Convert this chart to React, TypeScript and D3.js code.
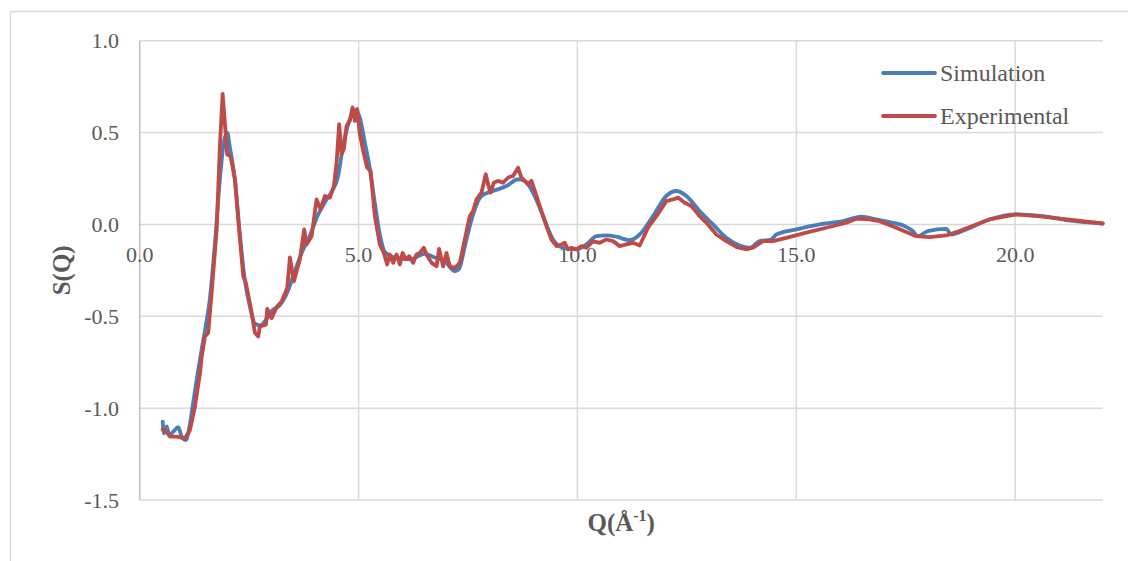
import React from "react";
import * as d3 from "d3";

const yTicks = [1.0, 0.5, 0.0, -0.5, -1.0, -1.5];
const xTicks = [0, 5, 10, 15, 20];
const seriesNames = ["Simulation", "Experimental"];
const seriesColors = ["#4A7EBB", "#BE4B48"];

const simQ = [0.525, 0.555, 0.616, 0.676, 0.767, 0.881, 0.959, 1.057, 1.132, 1.21, 1.301, 1.416, 1.49, 1.605, 1.72, 1.833, 1.925, 2.0, 2.06, 2.176, 2.29, 2.4, 2.52, 2.632, 2.747, 2.884, 3.02, 3.2, 3.39, 3.55, 3.71, 3.89, 4.07, 4.23, 4.39, 4.53, 4.64, 4.77, 4.85, 4.94, 5.03, 5.14, 5.26, 5.37, 5.49, 5.6, 5.83, 6.17, 6.51, 6.74, 6.97, 7.2, 7.3, 7.43, 7.55, 7.616, 7.808, 8.073, 8.379, 8.644, 8.797, 8.986, 9.215, 9.443, 9.671, 9.977, 10.205, 10.434, 10.662, 10.89, 11.191, 11.422, 11.726, 12.032, 12.26, 12.489, 12.792, 13.096, 13.402, 13.706, 13.934, 14.162, 14.429, 14.543, 15.0, 15.532, 16.064, 16.484, 16.826, 17.205, 17.473, 17.662, 17.776, 18.005, 18.425, 18.539, 18.881, 19.413, 20.023, 20.63, 21.164, 22.0];
const simS = [-1.074, -1.137, -1.1, -1.146, -1.128, -1.104, -1.155, -1.173, -1.108, -0.99, -0.846, -0.68, -0.58, -0.4, -0.1, 0.25, 0.45, 0.5, 0.42, 0.24, -0.06, -0.3, -0.45, -0.54, -0.55, -0.52, -0.47, -0.44, -0.36, -0.25, -0.15, -0.06, 0.05, 0.12, 0.18, 0.26, 0.42, 0.55, 0.6, 0.62, 0.58, 0.45, 0.3, 0.12, -0.06, -0.15, -0.18, -0.19, -0.16, -0.18, -0.2, -0.255, -0.24, -0.118, 0.0, 0.055, 0.155, 0.182, 0.209, 0.246, 0.237, 0.173, 0.045, -0.082, -0.127, -0.136, -0.109, -0.064, -0.06, -0.067, -0.086, -0.055, 0.045, 0.155, 0.182, 0.155, 0.073, 0.0, -0.073, -0.115, -0.127, -0.091, -0.082, -0.055, -0.027, 0.0, 0.018, 0.042, 0.027, 0.009, -0.009, -0.036, -0.064, -0.036, -0.024, -0.055, -0.027, 0.027, 0.055, 0.045, 0.024, 0.005];

const expQ = [0.525, 0.616, 0.692, 0.845, 1.034, 1.148, 1.263, 1.377, 1.416, 1.491, 1.566, 1.644, 1.758, 1.833, 1.895, 2.0, 2.078, 2.176, 2.29, 2.365, 2.427, 2.557, 2.632, 2.708, 2.747, 2.884, 2.913, 3.014, 3.128, 3.242, 3.37, 3.432, 3.523, 3.66, 3.758, 3.813, 3.927, 4.041, 4.132, 4.231, 4.345, 4.436, 4.498, 4.557, 4.612, 4.664, 4.726, 4.801, 4.863, 4.916, 4.968, 5.03, 5.105, 5.196, 5.274, 5.372, 5.486, 5.578, 5.653, 5.715, 5.79, 5.868, 5.943, 6.005, 6.08, 6.155, 6.247, 6.324, 6.4, 6.491, 6.553, 6.667, 6.781, 6.84, 6.932, 7.009, 7.084, 7.199, 7.313, 7.427, 7.541, 7.616, 7.694, 7.808, 7.906, 7.959, 8.014, 8.089, 8.187, 8.301, 8.416, 8.53, 8.644, 8.721, 8.797, 8.872, 8.95, 9.064, 9.178, 9.292, 9.406, 9.521, 9.635, 9.71, 9.785, 9.863, 9.977, 10.091, 10.205, 10.356, 10.509, 10.662, 10.813, 10.966, 11.119, 11.269, 11.422, 11.612, 11.804, 12.032, 12.183, 12.297, 12.45, 12.603, 12.792, 12.982, 13.174, 13.402, 13.63, 13.858, 14.009, 14.237, 14.466, 14.772, 15.228, 15.685, 16.142, 16.37, 16.674, 16.902, 17.283, 17.74, 18.043, 18.425, 18.728, 19.11, 19.413, 20.023, 20.63, 22.0];
const expS = [-1.115, -1.13, -1.155, -1.155, -1.164, -1.12, -0.99, -0.81, -0.72, -0.61, -0.59, -0.37, -0.03, 0.43, 0.71, 0.38, 0.37, 0.245, -0.08, -0.28, -0.32, -0.48, -0.59, -0.61, -0.555, -0.546, -0.46, -0.51, -0.45, -0.42, -0.346, -0.18, -0.31, -0.19, -0.027, -0.109, -0.064, 0.136, 0.082, 0.155, 0.146, 0.209, 0.337, 0.546, 0.382, 0.41, 0.537, 0.564, 0.637, 0.564, 0.628, 0.491, 0.4, 0.309, 0.291, 0.045, -0.109, -0.155, -0.218, -0.164, -0.209, -0.164, -0.218, -0.155, -0.19, -0.173, -0.209, -0.164, -0.155, -0.127, -0.164, -0.209, -0.227, -0.133, -0.228, -0.155, -0.228, -0.237, -0.21, -0.082, 0.045, 0.073, 0.136, 0.173, 0.273, 0.218, 0.173, 0.227, 0.237, 0.227, 0.255, 0.264, 0.309, 0.255, 0.237, 0.218, 0.237, 0.155, 0.073, -0.009, -0.082, -0.118, -0.109, -0.1, -0.136, -0.127, -0.136, -0.118, -0.127, -0.091, -0.1, -0.082, -0.091, -0.118, -0.109, -0.1, -0.115, -0.018, 0.045, 0.127, 0.136, 0.146, 0.118, 0.1, 0.045, 0.0, -0.055, -0.091, -0.122, -0.136, -0.127, -0.091, -0.091, -0.073, -0.045, -0.018, 0.009, 0.031, 0.027, 0.018, -0.018, -0.064, -0.069, -0.06, -0.036, 0.0, 0.027, 0.055, 0.042, 0.005];

const W = 1128;
const H = 561;
const plot = { left: 139.7, right: 1102.7, top: 40.7, bottom: 500 };
const FONT = "'Liberation Serif', 'Times New Roman', serif";
const GRAY = "#595959";

export default function App() {
  const x = d3.scaleLinear().domain([0, 22]).range([plot.left, plot.right]);
  const y = d3.scaleLinear().domain([-1.5, 1.0]).range([plot.bottom, plot.top]);

  const simLine = d3
    .line<number>()
    .x((_, i) => x(simQ[i]))
    .y((d) => y(d))
    .curve(d3.curveMonotoneX);
  const expLine = d3
    .line<number>()
    .x((_, i) => x(expQ[i]))
    .y((d) => y(d))
    .curve(d3.curveLinear);

  const legendY = [73, 116];

  return (
    <svg
      width={W}
      height={H}
      style={{ position: "absolute", left: 0, top: 0, background: "#fff" }}
    >
      <rect x={0} y={0} width={W} height={H} fill="#fff" />
      <line x1={10.5} y1={11.5} x2={W} y2={11.5} stroke="#D9D9D9" strokeWidth={1.3} />
      <line x1={10.5} y1={11.5} x2={10.5} y2={H} stroke="#D9D9D9" strokeWidth={1.3} />

      {yTicks.map((t) => (
        <line
          key={"gy" + t}
          x1={plot.left}
          x2={plot.right}
          y1={y(t)}
          y2={y(t)}
          stroke="#D9D9D9"
          strokeWidth={1.5}
        />
      ))}
      {xTicks.map((t) => (
        <line
          key={"gx" + t}
          x1={x(t)}
          x2={x(t)}
          y1={plot.top}
          y2={plot.bottom}
          stroke={t === 0 ? "#BFBFBF" : "#D9D9D9"}
          strokeWidth={1.5}
        />
      ))}

      {yTicks.map((t) => (
        <text
          key={"ly" + t}
          x={119}
          y={y(t)}
          dy="0.35em"
          textAnchor="end"
          fontFamily={FONT}
          fontSize={22}
          fill={GRAY}
        >
          {t.toFixed(1)}
        </text>
      ))}
      {xTicks.map((t) => (
        <text
          key={"lx" + t}
          x={x(t)}
          y={262}
          textAnchor="middle"
          fontFamily={FONT}
          fontSize={22}
          fill={GRAY}
        >
          {t.toFixed(1)}
        </text>
      ))}

      <path
        d={simLine(simS) || ""}
        fill="none"
        stroke={seriesColors[0]}
        strokeWidth={3.8}
        strokeLinejoin="round"
        strokeLinecap="round"
      />
      <path
        d={expLine(expS) || ""}
        fill="none"
        stroke={seriesColors[1]}
        strokeWidth={3.8}
        strokeLinejoin="round"
        strokeLinecap="round"
      />

      {seriesNames.map((n, i) => (
        <g key={n}>
          <line
            x1={883}
            x2={935}
            y1={legendY[i]}
            y2={legendY[i]}
            stroke={seriesColors[i]}
            strokeWidth={3.8}
            strokeLinecap="round"
          />
          <text
            x={940}
            y={legendY[i] + 8}
            fontFamily={FONT}
            fontSize={24}
            fill={GRAY}
          >
            {n}
          </text>
        </g>
      ))}

      <text
        transform={`translate(70, ${(plot.top + plot.bottom) / 2}) rotate(-90)`}
        textAnchor="middle"
        fontFamily={FONT}
        fontWeight="bold"
        fontSize={25}
        fill={GRAY}
      >
        S(Q)
      </text>
      <text
        x={(plot.left + plot.right) / 2}
        y={531}
        textAnchor="middle"
        fontFamily={FONT}
        fontWeight="bold"
        fontSize={25}
        fill={GRAY}
      >
        Q(Å
        <tspan fontSize={16} dy={-10}>
          -1
        </tspan>
        <tspan dy={10}>)</tspan>
      </text>
    </svg>
  );
}
